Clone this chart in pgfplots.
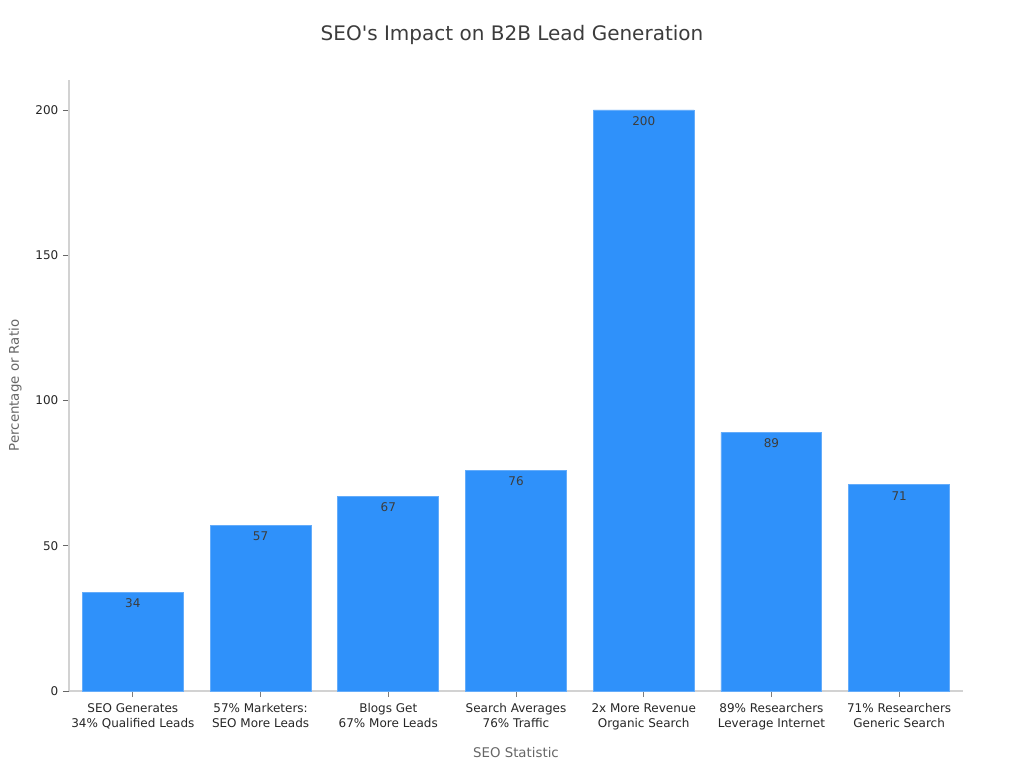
\documentclass[border=0pt]{standalone}
\usepackage{pgfplots}
\pgfplotsset{compat=1.18}
\usepackage{fontspec}
\setmainfont{DejaVu Sans}[Ligatures=TeXOff]
\definecolor{barblue}{RGB}{47,145,250}
\definecolor{baredge}{RGB}{100,172,250}
\definecolor{spine}{RGB}{210,210,210}
\definecolor{ticktext}{RGB}{38,38,38}
\definecolor{labeltext}{RGB}{102,102,102}
\begin{document}
\begin{tikzpicture}[x=0.75pt,y=0.75pt]
% page frame: 1024 x 768 units, axis box lower-left at (69, 77) from the lower-left corner
\path[use as bounding box] (-69,-77) rectangle (955,691);
\begin{axis}[
  at={(0,0)}, anchor=south west,
  scale only axis,
  width=670.5pt, height=458.25pt,
  xmin=-0.5, xmax=6.5,
  ymin=0, ymax=210.3,
  axis x line*=bottom, axis y line*=left,
  axis line style={spine, line width=0.8pt},
  ybar, bar width=0.79,
  xtick=data,
  xticklabels={{SEO Generates\\34\% Qualified Leads},{57\% Marketers:\\SEO More Leads},{Blogs Get\\67\% More Leads},{Search Averages\\76\% Traffic},{2x More Revenue\\Organic Search},{89\% Researchers\\Leverage Internet},{71\% Researchers\\Generic Search}},
  xticklabel style={align=center, font=\fontsize{9}{11}\selectfont, text=ticktext, yshift=-1.5pt},
  yticklabel style={font=\fontsize{9}{11}\selectfont, text=ticktext},
  ytick={0,50,100,150,200},
  /pgf/number format/assume math mode=true,
  tick align=outside,
  major tick length=4.5pt,
  tick style={color=ticktext!70, line width=0.6pt},
  xtick style={color=ticktext!60},
  xlabel={SEO Statistic},
  ylabel={Percentage or Ratio},
  xlabel style={font=\fontsize{10}{12}\selectfont, text=labeltext, yshift=-6pt},
  ylabel style={font=\fontsize{10}{12}\selectfont, text=labeltext, yshift=3.5pt},
  title={SEO's Impact on B2B Lead Generation},
  title style={font=\fontsize{15}{18}\selectfont, text=ticktext!90, at={(0.5,1)}, anchor=south, yshift=17pt, xshift=-3pt},
  nodes near coords,
  every node near coord/.append style={anchor=center, yshift=-8.25pt, font=\fontsize{9}{11}\selectfont, text=ticktext!90},
  nodes near coords style={/pgf/number format/assume math mode=true},
]
\addplot[fill=barblue, draw=baredge, line width=0.6pt] coordinates {
  (0,34) (1,57) (2,67) (3,76) (4,200) (5,89) (6,71)
};
\end{axis}
\end{tikzpicture}
\end{document}
